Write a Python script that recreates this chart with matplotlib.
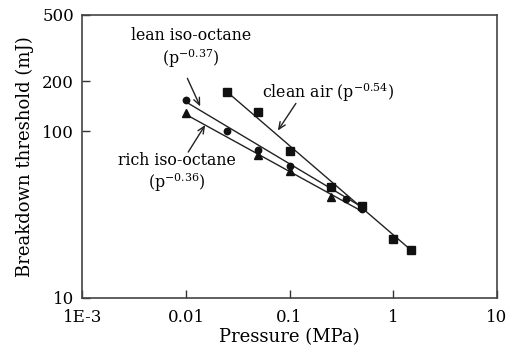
import matplotlib
matplotlib.use('Agg')
import matplotlib.pyplot as plt
from matplotlib.ticker import FixedLocator, FixedFormatter, NullLocator

plt.rcParams['font.family'] = 'DejaVu Serif'
plt.rcParams['mathtext.fontset'] = 'dejavuserif'

# clean air (squares)
air_p = [0.025, 0.05, 0.1, 0.25, 0.5, 1.0, 1.5]
air_e = [172, 131, 76, 46, 35.5, 22.4, 19.2]
# lean iso-octane (circles)
lean_p = [0.01, 0.025, 0.05, 0.1, 0.35, 0.5]
lean_e = [155, 100, 77, 62, 39, 34]
# rich iso-octane (triangles)
rich_p = [0.01, 0.05, 0.1, 0.25]
rich_e = [128, 72, 57.5, 40.5]

# fitted power-law lines (end points)
air_fit_p = [0.025, 1.5]
air_fit_e = [172, 19.2]
lean_fit_p = [0.01, 0.5]
lean_fit_e = [150, 35]
rich_fit_p = [0.01, 0.5]
rich_fit_e = [126, 33]

xticks = [1e-3, 0.01, 0.1, 1, 10]
xlabels = ['1E-3', '0.01', '0.1', '1', '10']
yticks = [10, 100, 200, 500]
ylabels = ['10', '100', '200', '500']

fig = plt.figure(figsize=(5.09, 3.56), dpi=100)
ax = fig.add_axes([0.162, 0.164, 0.814, 0.794])

ax.plot(air_fit_p, air_fit_e, color='#222222', lw=1.0)
ax.plot(lean_fit_p, lean_fit_e, color='#222222', lw=1.0)
ax.plot(rich_fit_p, rich_fit_e, color='#222222', lw=1.0)
ax.plot(air_p, air_e, 's', color='#111111', ms=5.2, ls='none')
ax.plot(lean_p, lean_e, 'o', color='#111111', ms=4.6, ls='none')
ax.plot(rich_p, rich_e, '^', color='#111111', ms=5.2, ls='none')

ax.set_xscale('log')
ax.set_yscale('log')
ax.set_xlim(1e-3, 10)
ax.set_ylim(10, 500)
ax.xaxis.set_major_locator(FixedLocator(xticks))
ax.xaxis.set_major_formatter(FixedFormatter(xlabels))
ax.xaxis.set_minor_locator(NullLocator())
ax.yaxis.set_major_locator(FixedLocator(yticks))
ax.yaxis.set_major_formatter(FixedFormatter(ylabels))
ax.yaxis.set_minor_locator(NullLocator())
ax.tick_params(direction='in', length=6, width=1, labelsize=12, color='#333333')
ax.tick_params(axis='x', pad=8)
ax.tick_params(axis='y', pad=6)
for s in ax.spines.values():
    s.set_color('#444444')
    s.set_linewidth(1.2)

ax.set_xlabel('Pressure (MPa)', fontsize=13, labelpad=2)
ax.set_ylabel('Breakdown threshold (mJ)', fontsize=13, labelpad=6)

fs = 11.3
arrow = dict(arrowstyle='->,head_length=0.5,head_width=0.22', color='#222222', lw=1.0,
             shrinkA=0, shrinkB=0)
ax.text(0.0111, 314, 'lean iso-octane\n(p$^{-0.37}$)', ha='center', va='center',
        fontsize=fs, linespacing=1.15)
ax.annotate('', xy=(0.0137, 141), xytext=(0.0103, 208), arrowprops=arrow)
ax.text(0.054, 172, 'clean air (p$^{-0.54}$)', ha='left', va='center', fontsize=fs)
ax.annotate('', xy=(0.077, 101), xytext=(0.115, 147), arrowprops=arrow)
ax.text(0.0081, 56, 'rich iso-octane\n(p$^{-0.36}$)', ha='center', va='center',
        fontsize=fs, linespacing=1.1)
ax.annotate('', xy=(0.0153, 109), xytext=(0.0105, 75), arrowprops=arrow)

fig.savefig('out.png', dpi=100)
